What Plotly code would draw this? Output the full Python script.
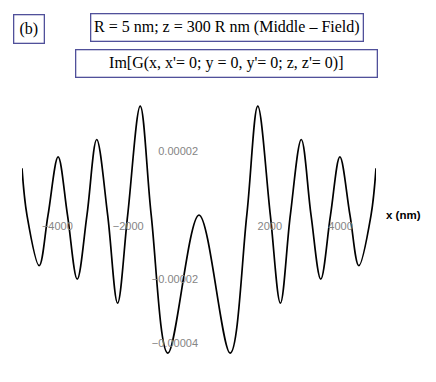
import plotly.graph_objects as go

# Data (x in nm, Im[G] values)
x_nm = [-5000, -4860, -4515, -4265, -3980, -3715, -3440, -3165, -2890, -2580,
        -2300, -2015, -1660, -1350, -880, 0, 880, 1350, 1660, 2015,
        2300, 2580, 2890, 3165, 3440, 3715, 3980, 4265, 4515, 4860, 5000]
im_g = [1.46e-5, 0.0, -1.58e-5, 0.0, 1.82e-5, 0.0, -2.00e-5, 0.0, 2.36e-5, 0.0,
        -2.75e-5, 0.0, 3.40e-5, 0.0, -4.31e-5, 0.0, -4.31e-5, 0.0, 3.40e-5, 0.0,
        -2.75e-5, 0.0, 2.36e-5, 0.0, -2.00e-5, 0.0, 1.82e-5, 0.0, -1.58e-5, 0.0, 1.46e-5]

x_ticks = [-4000, -2000, 2000, 4000]
x_tick_labels = ["\u22124000", "\u22122000", "2000", "4000"]
y_ticks = [2e-5, -2e-5, -4e-5]
y_tick_labels = ["0.00002", "\u22120.00002", "\u22120.00004"]

W, H = 436, 382
L, R, T, B = 22, 60, 102.6, 25.7
x_range = [-5000, 5000]
y_range = [-4.4e-5, 3.5e-5]
pw, ph = W - L - R, H - T - B

def px_x(p):
    return (p - L) / pw

def px_y(p):
    return 1 - (p - T) / ph

fig = go.Figure()
fig.add_trace(go.Scatter(
    x=x_nm, y=im_g, mode="lines",
    line=dict(color="black", width=1.7, shape="spline", smoothing=1.0),
    hoverinfo="skip", showlegend=False,
))

tick_font = dict(family="Liberation Sans, Arial", size=11, color="#858585")
x_pos = (0 - y_range[0]) / (y_range[1] - y_range[0])
y_pos = (0 - x_range[0]) / (x_range[1] - x_range[0])

fig.update_layout(
    width=W, height=H,
    margin=dict(l=L, r=R, t=T, b=B, pad=0),
    paper_bgcolor="white", plot_bgcolor="white",
    xaxis=dict(range=x_range, showgrid=False, zeroline=False, showline=False,
               tickvals=x_ticks, ticktext=x_tick_labels, ticks="",
               ticklabelstandoff=3,
               anchor="free", position=x_pos, tickfont=tick_font),
    yaxis=dict(range=y_range, showgrid=False, zeroline=False, showline=False,
               tickvals=y_ticks, ticktext=y_tick_labels, ticks="",
               ticklabelstandoff=1,
               anchor="free", position=y_pos, tickfont=tick_font),
)

box_font = dict(family="Liberation Serif, Times New Roman", size=16, color="black")
border = "#50509a"

def box(text, cx, cy, w, h):
    fig.add_annotation(text=text, xref="paper", yref="paper",
                       x=px_x(cx), y=px_y(cy), xanchor="center", yanchor="middle",
                       showarrow=False, font=box_font, width=w, height=h,
                       bordercolor=border, borderwidth=1.3, borderpad=0,
                       bgcolor="white", align="center", valign="middle")

box("(b)", 29.2, 28.2, 29, 27)
box("R = 5 nm; z = 300 R nm (Middle \u2013 Field)", 226.7, 26.4, 271, 26)
box("Im[G(x, x'= 0; y = 0, y'= 0; z, z'= 0)]", 226.8, 62.9, 300, 26)

fig.add_annotation(text="<b>x (nm)</b>", xref="paper", yref="y",
                   x=px_x(403.7), y=0, xanchor="center", yanchor="middle",
                   showarrow=False,
                   font=dict(family="Liberation Sans, Arial", size=11.5, color="black"))

fig.write_html("out.html", config={"displayModeBar": False},
               post_script="document.body.style.margin='0';document.body.style.overflow='hidden';")
